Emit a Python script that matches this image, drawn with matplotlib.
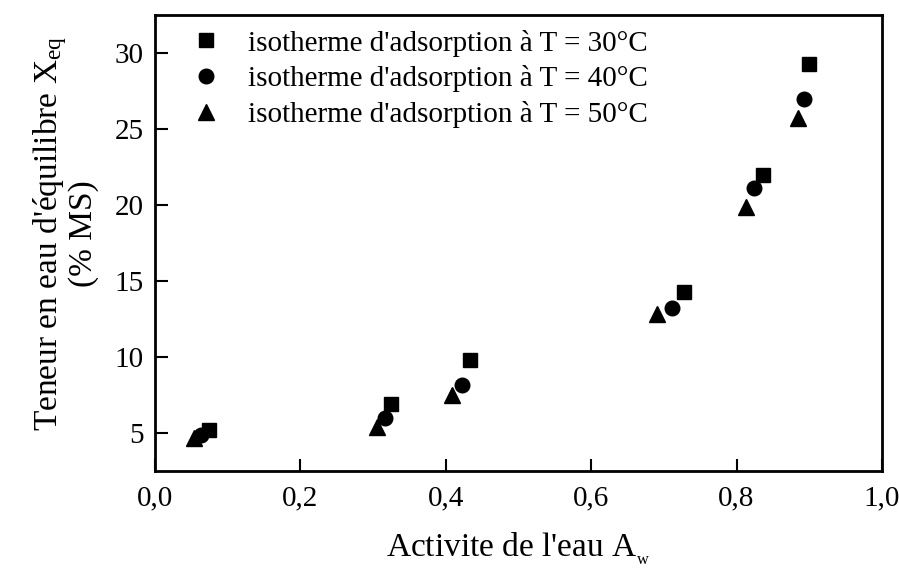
import numpy as np
from matplotlib import pyplot as plt
from matplotlib.ticker import FuncFormatter

plt.rcParams['font.family'] = ['Liberation Serif', 'DejaVu Serif']
plt.rcParams['mathtext.fontset'] = 'custom'
plt.rcParams['mathtext.rm'] = 'Liberation Serif'
plt.rcParams['mathtext.it'] = 'Liberation Serif:italic'

# water activity (x) and equilibrium moisture content (y, % MS)
aw_30 = [0.074, 0.324, 0.433, 0.728, 0.836, 0.900]
xeq_30 = [5.2, 6.9, 9.8, 14.3, 22.0, 29.3]
aw_40 = [0.063, 0.316, 0.423, 0.711, 0.824, 0.893]
xeq_40 = [4.9, 6.0, 8.15, 13.2, 21.1, 27.0]
aw_50 = [0.054, 0.306, 0.409, 0.691, 0.813, 0.884]
xeq_50 = [4.7, 5.4, 7.5, 12.8, 19.9, 25.7]

labels = ["isotherme d'adsorption à T = 30°C",
          "isotherme d'adsorption à T = 40°C",
          "isotherme d'adsorption à T = 50°C"]
xticks = [0.0, 0.2, 0.4, 0.6, 0.8, 1.0]
yticks = [5, 10, 15, 20, 25, 30]

fig = plt.figure(figsize=(8.99, 5.71), dpi=100)
ax = fig.add_axes([0.1724, 0.1751, 0.8086, 0.7986])

ax.plot(aw_30, xeq_30, 's', color='black', markersize=9.5, label=labels[0])
ax.plot(aw_40, xeq_40, 'o', color='black', markersize=10.5, label=labels[1])
ax.plot(aw_50, xeq_50, '^', color='black', markersize=12, label=labels[2])

ax.set_xlim(0, 1.0)
ax.set_ylim(2.5, 32.5)
ax.set_xticks(xticks)
ax.set_yticks(yticks)
ax.xaxis.set_major_formatter(FuncFormatter(lambda v, p: f"{v:.1f}".replace('.', ',')))
ax.tick_params(direction='in', length=9, width=1.5, labelsize=21)
ax.tick_params(axis='x', pad=10)
ax.tick_params(axis='y', pad=8)
for s in ax.spines.values():
    s.set_linewidth(2)

ax.set_xlabel(r"Activite de l'eau $\mathregular{A_{_w}}$", fontsize=24, labelpad=14)
ax.set_ylabel("Teneur en eau d'équilibre $\\mathregular{X_{eq}}$\n(% MS)",
              fontsize=24, linespacing=0.95)
ax.yaxis.set_label_coords(-0.077, 0.52)

ax.legend(loc='upper left', frameon=False, fontsize=21, handletextpad=0.7,
          labelspacing=0.3, borderaxespad=0.25, borderpad=0.25,
          handlelength=1.5, bbox_to_anchor=(0.02, 1.0))

fig.savefig('out.png', dpi=100)
